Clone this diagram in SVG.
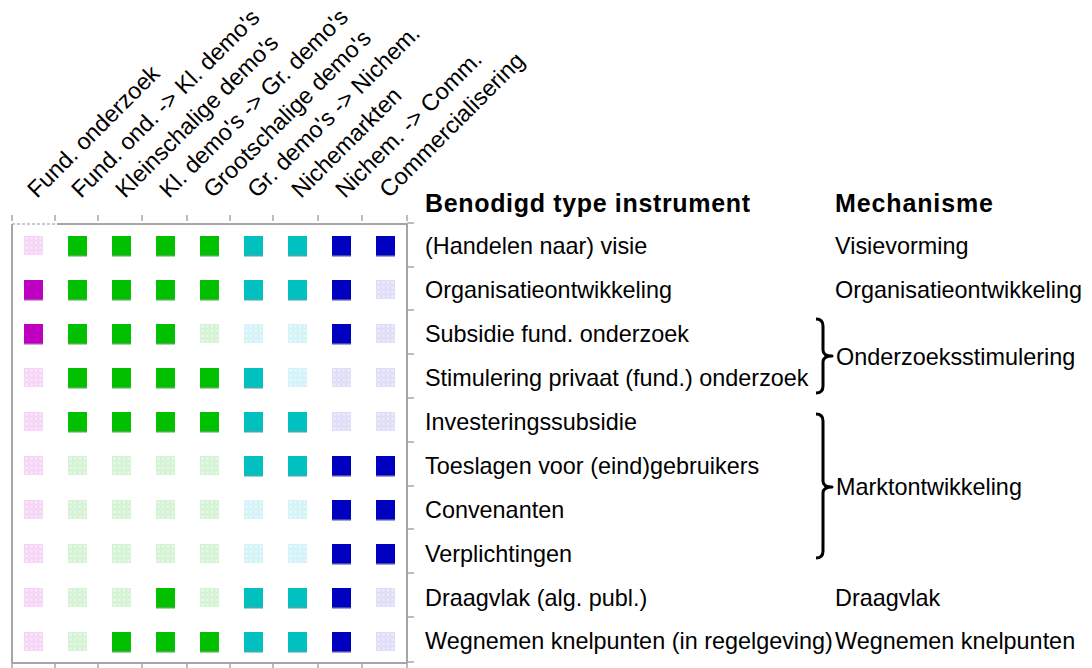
<svg xmlns="http://www.w3.org/2000/svg" xmlns:xlink="http://www.w3.org/1999/xlink" width="1092" height="668" viewBox="0 0 1092 668">
<style>
text{font-family:"Liberation Sans",Arial,sans-serif;fill:#000}
.t{font-size:23.4px}
.h{font-size:25px;font-weight:bold}
.ax{stroke:#a6a6a6;stroke-width:2;fill:none}
.tk{stroke:#a6a6a6;stroke-width:1.5}
.br{stroke:#000;stroke-width:3;fill:none;stroke-linejoin:round}
</style>
<defs>
<pattern id="pM" patternUnits="objectBoundingBox" width="0.25" height="0.25"><rect x="0.7" y="0.7" width="3.3" height="3.3" fill="none" stroke="#f2c2f2" stroke-width="1"/><rect x="1.9" y="1.9" width="1" height="1" fill="#f6d6f6"/></pattern>
<pattern id="pG" patternUnits="objectBoundingBox" width="0.25" height="0.25"><rect x="0.7" y="0.7" width="3.3" height="3.3" fill="none" stroke="#c2eec2" stroke-width="1"/><rect x="1.9" y="1.9" width="1" height="1" fill="#d6f4d6"/></pattern>
<pattern id="pC" patternUnits="objectBoundingBox" width="0.25" height="0.25"><rect x="0.7" y="0.7" width="3.3" height="3.3" fill="none" stroke="#bfeef4" stroke-width="1"/><rect x="1.9" y="1.9" width="1" height="1" fill="#d6f6f8"/></pattern>
<pattern id="pB" patternUnits="objectBoundingBox" width="0.25" height="0.25"><rect x="0.7" y="0.7" width="3.3" height="3.3" fill="none" stroke="#cfcff4" stroke-width="1"/><rect x="1.9" y="1.9" width="1" height="1" fill="#dedef8"/></pattern>
<g id="sM"><rect y="1.5" width="19" height="19" fill="#a848a8"/><rect width="19" height="19" fill="#c000c0"/></g>
<g id="sG"><rect y="1.5" width="19" height="19" fill="#4caf4c"/><rect width="19" height="19" fill="#00c000"/></g>
<g id="sC"><rect y="1.5" width="19" height="19" fill="#4aa8a8"/><rect width="19" height="19" fill="#00c0c0"/></g>
<g id="sB"><rect y="1.5" width="19" height="19" fill="#4848b0"/><rect width="19" height="19" fill="#0000c0"/></g>
<rect id="eM" width="19" height="19" fill="url(#pM)"/>
<rect id="eG" width="19" height="19" fill="url(#pG)"/>
<rect id="eC" width="19" height="19" fill="url(#pC)"/>
<rect id="eB" width="19" height="19" fill="url(#pB)"/>
</defs>

<g id="axes">
<line class="ax" x1="57" y1="224" x2="407" y2="224"/>
<line x1="12" y1="224" x2="57" y2="224" stroke="#c8c8c8" stroke-width="2" stroke-dasharray="3,2"/>
<line class="ax" x1="12" y1="224" x2="12" y2="663" stroke-width="2.5"/>
<line class="ax" x1="407" y1="224" x2="407" y2="663"/>
<line class="ax" x1="12" y1="663" x2="407" y2="663"/>
<g class="tk">
<line x1="12" y1="215" x2="12" y2="221"/><line x1="55" y1="215" x2="55" y2="221"/><line x1="98" y1="215" x2="98" y2="221"/><line x1="142" y1="215" x2="142" y2="221"/><line x1="187" y1="215" x2="187" y2="221"/><line x1="230" y1="215" x2="230" y2="221"/><line x1="273" y1="215" x2="273" y2="221"/><line x1="318" y1="215" x2="318" y2="221"/><line x1="362" y1="215" x2="362" y2="221"/><line x1="407" y1="215" x2="407" y2="221"/>
<line x1="12" y1="663" x2="12" y2="668"/><line x1="55" y1="663" x2="55" y2="668"/><line x1="98" y1="663" x2="98" y2="668"/><line x1="142" y1="663" x2="142" y2="668"/><line x1="187" y1="663" x2="187" y2="668"/><line x1="230" y1="663" x2="230" y2="668"/><line x1="273" y1="663" x2="273" y2="668"/><line x1="318" y1="663" x2="318" y2="668"/><line x1="362" y1="663" x2="362" y2="668"/><line x1="407" y1="663" x2="407" y2="668"/>
<line x1="407" y1="223" x2="414" y2="223"/><line x1="407" y1="267" x2="414" y2="267"/><line x1="407" y1="310" x2="414" y2="310"/><line x1="407" y1="354" x2="414" y2="354"/><line x1="407" y1="398" x2="414" y2="398"/><line x1="407" y1="442" x2="414" y2="442"/><line x1="407" y1="486" x2="414" y2="486"/><line x1="407" y1="529" x2="414" y2="529"/><line x1="407" y1="573" x2="414" y2="573"/><line x1="407" y1="617" x2="414" y2="617"/><line x1="407" y1="662" x2="414" y2="662"/>
</g>
</g>

<g id="column-labels" class="t">
<text transform="translate(37,199) rotate(-45)">Fund. onderzoek</text>
<text transform="translate(81,199) rotate(-45)">Fund. ond. -&gt; Kl. demo's</text>
<text transform="translate(125,199) rotate(-45)">Kleinschalige demo's</text>
<text transform="translate(169,199) rotate(-45)">Kl. demo's -&gt; Gr. demo's</text>
<text transform="translate(213,199) rotate(-45)">Grootschalige demo's</text>
<text transform="translate(257,199) rotate(-45)">Gr. demo's -&gt; Nichem.</text>
<text transform="translate(301,199) rotate(-45)">Nichemarkten</text>
<text transform="translate(345,199) rotate(-45)">Nichem. -&gt; Comm.</text>
<text transform="translate(389,199) rotate(-45)">Commercialisering</text>
</g>

<g id="headers">
<text class="h" x="425" y="212" textLength="325" lengthAdjust="spacing">Benodigd type instrument</text>
<text class="h" x="835" y="212" textLength="158" lengthAdjust="spacing">Mechanisme</text>
</g>

<g id="row1">
<use href="#eM" x="24" y="236"/><use href="#sG" x="68" y="236"/><use href="#sG" x="112" y="236"/><use href="#sG" x="156" y="236"/><use href="#sG" x="200" y="236"/><use href="#sC" x="244" y="236"/><use href="#sC" x="288" y="236"/><use href="#sB" x="332" y="236"/><use href="#sB" x="376" y="236"/>
<text class="t" x="425" y="254">(Handelen naar) visie</text>
<text class="t" x="835" y="254">Visievorming</text>
</g>
<g id="row2">
<use href="#sM" x="24" y="280"/><use href="#sG" x="68" y="280"/><use href="#sG" x="112" y="280"/><use href="#sG" x="156" y="280"/><use href="#sG" x="200" y="280"/><use href="#sC" x="244" y="280"/><use href="#sC" x="288" y="280"/><use href="#sB" x="332" y="280"/><use href="#eB" x="376" y="280"/>
<text class="t" x="425" y="298">Organisatieontwikkeling</text>
<text class="t" x="835" y="298">Organisatieontwikkeling</text>
</g>
<g id="row3">
<use href="#sM" x="24" y="324"/><use href="#sG" x="68" y="324"/><use href="#sG" x="112" y="324"/><use href="#sG" x="156" y="324"/><use href="#eG" x="200" y="324"/><use href="#eC" x="244" y="324"/><use href="#eC" x="288" y="324"/><use href="#sB" x="332" y="324"/><use href="#eB" x="376" y="324"/>
<text class="t" x="425" y="342">Subsidie fund. onderzoek</text>
</g>
<g id="row4">
<use href="#eM" x="24" y="368"/><use href="#sG" x="68" y="368"/><use href="#sG" x="112" y="368"/><use href="#sG" x="156" y="368"/><use href="#sG" x="200" y="368"/><use href="#sC" x="244" y="368"/><use href="#eC" x="288" y="368"/><use href="#eB" x="332" y="368"/><use href="#eB" x="376" y="368"/>
<text class="t" x="425" y="386">Stimulering privaat (fund.) onderzoek</text>
</g>
<g id="row5">
<use href="#eM" x="24" y="412"/><use href="#sG" x="68" y="412"/><use href="#sG" x="112" y="412"/><use href="#sG" x="156" y="412"/><use href="#sG" x="200" y="412"/><use href="#sC" x="244" y="412"/><use href="#sC" x="288" y="412"/><use href="#eB" x="332" y="412"/><use href="#eB" x="376" y="412"/>
<text class="t" x="425" y="430">Investeringssubsidie</text>
</g>
<g id="row6">
<use href="#eM" x="24" y="456"/><use href="#eG" x="68" y="456"/><use href="#eG" x="112" y="456"/><use href="#eG" x="156" y="456"/><use href="#eG" x="200" y="456"/><use href="#sC" x="244" y="456"/><use href="#sC" x="288" y="456"/><use href="#sB" x="332" y="456"/><use href="#sB" x="376" y="456"/>
<text class="t" x="425" y="474">Toeslagen voor (eind)gebruikers</text>
</g>
<g id="row7">
<use href="#eM" x="24" y="500"/><use href="#eG" x="68" y="500"/><use href="#eG" x="112" y="500"/><use href="#eG" x="156" y="500"/><use href="#eG" x="200" y="500"/><use href="#eC" x="244" y="500"/><use href="#eC" x="288" y="500"/><use href="#sB" x="332" y="500"/><use href="#sB" x="376" y="500"/>
<text class="t" x="425" y="518">Convenanten</text>
</g>
<g id="row8">
<use href="#eM" x="24" y="544"/><use href="#eG" x="68" y="544"/><use href="#eG" x="112" y="544"/><use href="#eG" x="156" y="544"/><use href="#eG" x="200" y="544"/><use href="#eC" x="244" y="544"/><use href="#eC" x="288" y="544"/><use href="#sB" x="332" y="544"/><use href="#sB" x="376" y="544"/>
<text class="t" x="425" y="562">Verplichtingen</text>
</g>
<g id="row9">
<use href="#eM" x="24" y="588"/><use href="#eG" x="68" y="588"/><use href="#eG" x="112" y="588"/><use href="#sG" x="156" y="588"/><use href="#eG" x="200" y="588"/><use href="#sC" x="244" y="588"/><use href="#sC" x="288" y="588"/><use href="#sB" x="332" y="588"/><use href="#eB" x="376" y="588"/>
<text class="t" x="425" y="606">Draagvlak (alg. publ.)</text>
<text class="t" x="835" y="606">Draagvlak</text>
</g>
<g id="row10">
<use href="#eM" x="24" y="632"/><use href="#eG" x="68" y="632"/><use href="#sG" x="112" y="632"/><use href="#sG" x="156" y="632"/><use href="#sG" x="200" y="632"/><use href="#sC" x="244" y="632"/><use href="#sC" x="288" y="632"/><use href="#sB" x="332" y="632"/><use href="#eB" x="376" y="632"/>
<text class="t" x="425" y="649">Wegnemen knelpunten (in regelgeving)</text>
<text class="t" x="835" y="649">Wegnemen knelpunten</text>
</g>

<g id="connectors">
<path class="br" d="M816,319 Q823,319 823,326 V350 Q823,356 832,356 Q823,356 823,362 V386 Q823,393 816,393"/>
<path class="br" d="M816,414 Q823,414 823,421 V481 Q823,487 832,487 Q823,487 823,493 V551 Q823,558 816,558"/>
</g>
<g id="mechanism-groups">
<text class="t" x="836" y="365">Onderzoeksstimulering</text>
<text class="t" x="836" y="495">Marktontwikkeling</text>
</g>
</svg>
